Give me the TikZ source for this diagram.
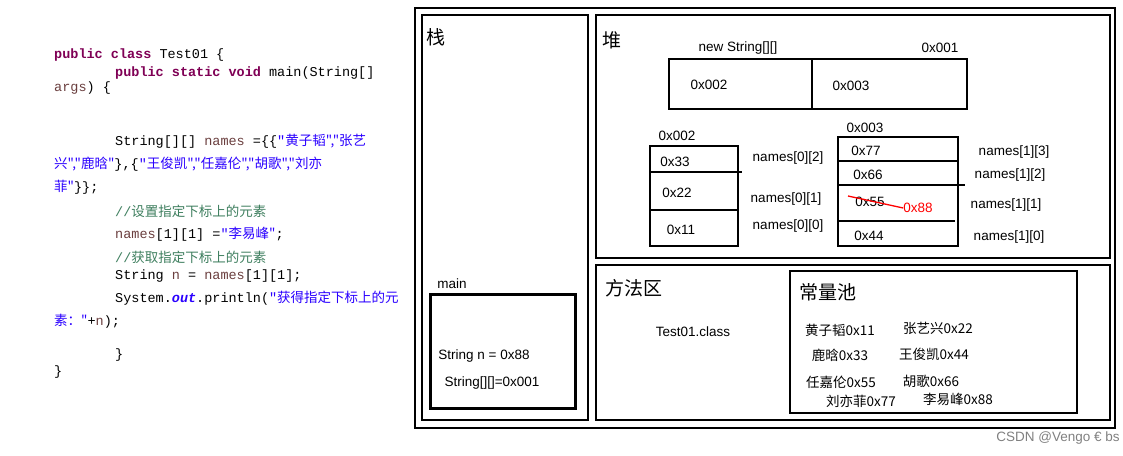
\documentclass[tikz,border=0pt]{standalone}
\usepackage{fontspec}
\setmainfont{Liberation Sans}
\newfontfamily\cjk{Noto Sans CJK SC}
\setmonofont{Liberation Mono}
\definecolor{kwcol}{RGB}{127,0,85}
\definecolor{strcol}{RGB}{42,0,255}
\definecolor{cmtcol}{RGB}{63,127,95}
\definecolor{varcol}{RGB}{106,62,62}
\tikzset{
    lbl/.style={inner sep=0pt, font=\fontsize{13.5}{15}\selectfont},
    plbl/.style={inner sep=0pt, font=\cjk\fontsize{13.5}{15}\selectfont},
    head/.style={inner sep=0pt, font=\cjk\fontsize{19}{21}\selectfont},
    code/.style={anchor=west, inner sep=0pt, font=\ttfamily\fontsize{13.5}{14}\selectfont},
    frame/.style={draw, line width=2pt},
    cell/.style={draw, line width=2pt}
}
\newcommand{\kw}[1]{\textcolor{kwcol}{\textbf{#1}}}
\newcommand{\st}[1]{\textcolor{strcol}{#1}}
\newcommand{\cm}[1]{\textcolor{cmtcol}{#1}}
\newcommand{\vr}[1]{\textcolor{varcol}{#1}}
\begin{document}
\begin{tikzpicture}[x=1pt,y=-1pt]
    \useasboundingbox (0,0) rectangle (1123,455);

    % code
    \node[code] (c1) at (54,55) {\kw{public class} Test01 \{};
    \node[code] (c2) at (115,73) {\kw{public static void} main(String[]};
    \node[code] (c3) at (54,88) {\vr{args}) \{};
    \node[code] (c4) at (115,141) {String[][] \vr{names} =\{\{\st{"\cjk{黄子韬}","\cjk{张艺}}};
    \node[code] (c5) at (54,164) {\st{\cjk{兴}","\cjk{鹿晗}"}\},\{\st{"\cjk{王俊凯}","\cjk{任嘉伦}","\cjk{胡歌}","\cjk{刘亦}}};
    \node[code] (c6) at (54,187) {\st{\cjk{菲}"}\}\};};
    \node[code] (c7) at (115,211) {\cm{//\cjk{设置指定下标上的元素}}};
    \node[code] (c8) at (115,234) {\vr{names}[1][1] =\st{"\cjk{李易峰}"};};
    \node[code] (c9) at (115,257) {\cm{//\cjk{获取指定下标上的元素}}};
    \node[code] (c10) at (115,276) {String \vr{n} = \vr{names}[1][1];};
    \node[code] (c11) at (115,298) {System.\textcolor{strcol}{\textbf{\textit{out}}}.println(\st{"\cjk{获得指定下标上的元}}};
    \node[code] (c12) at (54,321) {\st{\cjk{素：}"}+\vr{n});};
    \node[code] (c13) at (115,355) {\}};
    \node[code] (c14) at (54,372) {\}};

    % memory frames
    \draw[frame] (415,8) rectangle (1115,428);
    \draw[frame] (422,15) rectangle (588,420);
    \draw[frame] (596,15) rectangle (1110,258);
    \draw[frame] (596,265) rectangle (1110,420);
    \draw[frame] (790,271) rectangle (1077,413);
    \draw[line width=3pt] (430,294) rectangle (575,408);

    \node[head] (stack) at (436,37) {栈};
    \node[head] (heap) at (612,40) {堆};
    \node[head] (method) at (634,288) {方法区};
    \node[head] (pool) at (828,292) {常量池};

    % stack
    \node[lbl] (main) at (452,284) {main};
    \node[lbl] (sn) at (484,356) {String n = 0x88};
    \node[lbl] (sarr) at (492,383) {String[][]=0x001};

    % outer array
    \node[lbl] (newarr) at (738,48) {new String[][]};
    \node[lbl] (a001) at (940,48) {0x001};
    \draw[cell] (669,59) rectangle (967,109);
    \draw[cell] (812,59) -- (812,109);
    \node[lbl] (p2) at (709,85) {0x002};
    \node[lbl] (p3) at (851,86) {0x003};

    % names[0]
    \node[lbl] (a002) at (677,136) {0x002};
    \draw[cell] (650,146) rectangle (738,246);
    \draw[cell] (650,172) -- (742,172);
    \draw[cell] (650,210) -- (738,210);
    \node[lbl] (v33) at (675,162) {0x33};
    \node[lbl] (v22) at (677,193) {0x22};
    \node[lbl] (v11) at (681,230) {0x11};
    \node[lbl] (n02) at (788,158) {names[0][2]};
    \node[lbl] (n01) at (786,199) {names[0][1]};
    \node[lbl] (n00) at (788,226) {names[0][0]};

    % names[1]
    \node[lbl] (a003) at (865,128) {0x003};
    \draw[cell] (838,137) rectangle (958,246);
    \draw[cell] (838,161) -- (958,161);
    \draw[cell] (838,185) -- (965,185);
    \draw[cell] (838,221) -- (955,221);
    \node[lbl] (v77) at (866,151) {0x77};
    \node[lbl] (v66) at (868,175) {0x66};
    \node[lbl] (v55) at (870,202) {0x55};
    \node[lbl] (v44) at (869,236) {0x44};
    \node[lbl, text=red] (v88) at (918,208) {0x88};
    \coordinate (cross) at (848,196);
    \draw[red, line width=1.3pt] (cross) -- (v88.west);
    \node[lbl] (n13) at (1014,152) {names[1][3]};
    \node[lbl] (n12) at (1010,175) {names[1][2]};
    \node[lbl] (n11) at (1006,205) {names[1][1]};
    \node[lbl] (n10) at (1009,237) {names[1][0]};

    % method area
    \node[lbl] (cls) at (693,332) {Test01.class};
    \node[plbl] (e11) at (840,330) {黄子韬0x11};
    \node[plbl] (e22) at (938,328) {张艺兴0x22};
    \node[plbl] (e33) at (840,355) {鹿晗0x33};
    \node[plbl] (e44) at (934,354) {王俊凯0x44};
    \node[plbl] (e55) at (841,382) {任嘉伦0x55};
    \node[plbl] (e66) at (931,381) {胡歌0x66};
    \node[plbl] (e77) at (861,401) {刘亦菲0x77};
    \node[plbl] (e88) at (958,399) {李易峰0x88};

    \node[lbl, text=gray] (mark) at (1058,438) {CSDN @Vengo € bs};
\end{tikzpicture}
\end{document}
